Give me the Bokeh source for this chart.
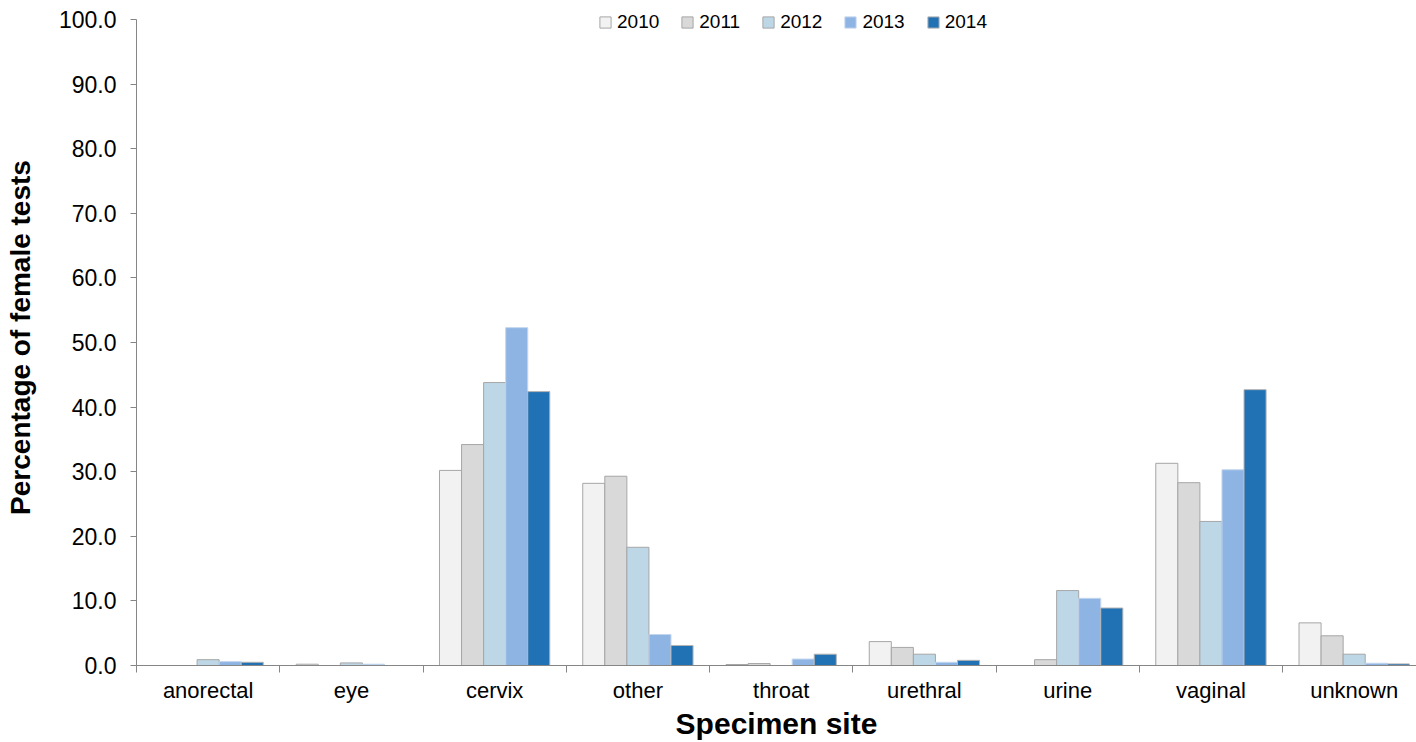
from bokeh.plotting import figure
from bokeh.models import Range1d, FixedTicker, NumeralTickFormatter, ColumnDataSource, Legend, LegendItem
from bokeh.transform import dodge
from bokeh.embed import file_html
from bokeh.resources import INLINE

categories = ["anorectal", "eye", "cervix", "other", "throat", "urethral", "urine", "vaginal", "unknown"]
years = ["2010", "2011", "2012", "2013", "2014"]
v2010 = [0.0, 0.2, 30.2, 28.2, 0.15, 3.7, 0.0, 31.3, 6.6]
v2011 = [0.0, 0.0, 34.2, 29.3, 0.3, 2.8, 0.9, 28.3, 4.6]
v2012 = [0.9, 0.4, 43.8, 18.3, 0.0, 1.75, 11.6, 22.3, 1.75]
v2013 = [0.6, 0.2, 52.3, 4.8, 1.0, 0.5, 10.4, 30.3, 0.35]
v2014 = [0.5, 0.0, 42.4, 3.1, 1.75, 0.8, 8.9, 42.7, 0.25]
colors = ["#f2f2f2", "#d9d9d9", "#bdd7e7", "#8db4e2", "#2171b5"]
outlines = ["#a6a6a6", "#a6a6a6", "#a6a6a6", "#c4d6ee", "#b4b4b4"]
yticks = [0, 10, 20, 30, 40, 50, 60, 70, 80, 90, 100]

series = [v2010, v2011, v2012, v2013, v2014]
n = len(categories)
idx = [i + 0.5 for i in range(n)]
src = ColumnDataSource(dict(x=idx, **{y: s for y, s in zip(years, series)}))

FONT = "Liberation Sans"
p = figure(width=1416, height=742, output_backend="svg", toolbar_location=None,
           x_range=Range1d(0, 8.935), y_range=Range1d(0, 101.55),
           min_border_left=136, min_border_top=9, min_border_right=0, min_border_bottom=77)
p.outline_line_color = None
p.xgrid.visible = False
p.ygrid.visible = False
p.background_fill_color = "white"

bw = 0.154
items = []
for k, (yr, col, oc) in enumerate(zip(years, colors, outlines)):
    r = p.vbar(x=dodge("x", (k - 2) * bw, range=p.x_range), top=yr, width=bw, bottom=0,
               source=src, fill_color=col, line_color=oc, line_width=1)
    items.append(LegendItem(label=yr, renderers=[r]))

legend = Legend(items=items, orientation="horizontal", location=(462, 632),
                glyph_width=14, glyph_height=14, label_standoff=5, spacing=21,
                padding=0, margin=0, border_line_color=None, background_fill_alpha=0,
                label_text_font=FONT, label_text_font_size="19px", label_text_color="#000000")
p.add_layout(legend, "center")

ax = p.xaxis[0]
ax.ticker = FixedTicker(ticks=idx, minor_ticks=list(range(n + 1)))
ax.major_label_overrides = {i + 0.5: c for i, c in enumerate(categories)}
ax.major_tick_out = 0
ax.major_tick_in = 0
ax.minor_tick_out = 7
ax.minor_tick_in = 0
ax.minor_tick_line_color = "#868686"
ax.axis_line_color = "#868686"
ax.major_label_text_font = FONT
ax.major_label_text_font_size = "22px"
ax.major_label_text_color = "#000000"
ax.major_label_standoff = 5
ax.axis_label = "Specimen site"
ax.axis_label_text_font = FONT
ax.axis_label_text_font_size = "30px"
ax.axis_label_text_font_style = "bold"
ax.axis_label_text_color = "#000000"
ax.axis_label_standoff = 1

ay = p.yaxis[0]
ay.ticker = FixedTicker(ticks=yticks, minor_ticks=[])
ay.bounds = (0, 100)
ay.formatter = NumeralTickFormatter(format="0.0")
ay.major_tick_out = 6
ay.major_tick_in = 0
ay.major_tick_line_color = "#868686"
ay.axis_line_color = "#868686"
ay.major_label_text_font = FONT
ay.major_label_text_font_size = "23px"
ay.major_label_text_color = "#000000"
ay.major_label_standoff = 14
ay.axis_label = "Percentage of female tests"
ay.axis_label_text_font = FONT
ay.axis_label_text_font_size = "28px"
ay.axis_label_text_font_style = "bold"
ay.axis_label_text_color = "#000000"
ay.axis_label_standoff = 20

open("out.html", "w").write(file_html(p, INLINE))
